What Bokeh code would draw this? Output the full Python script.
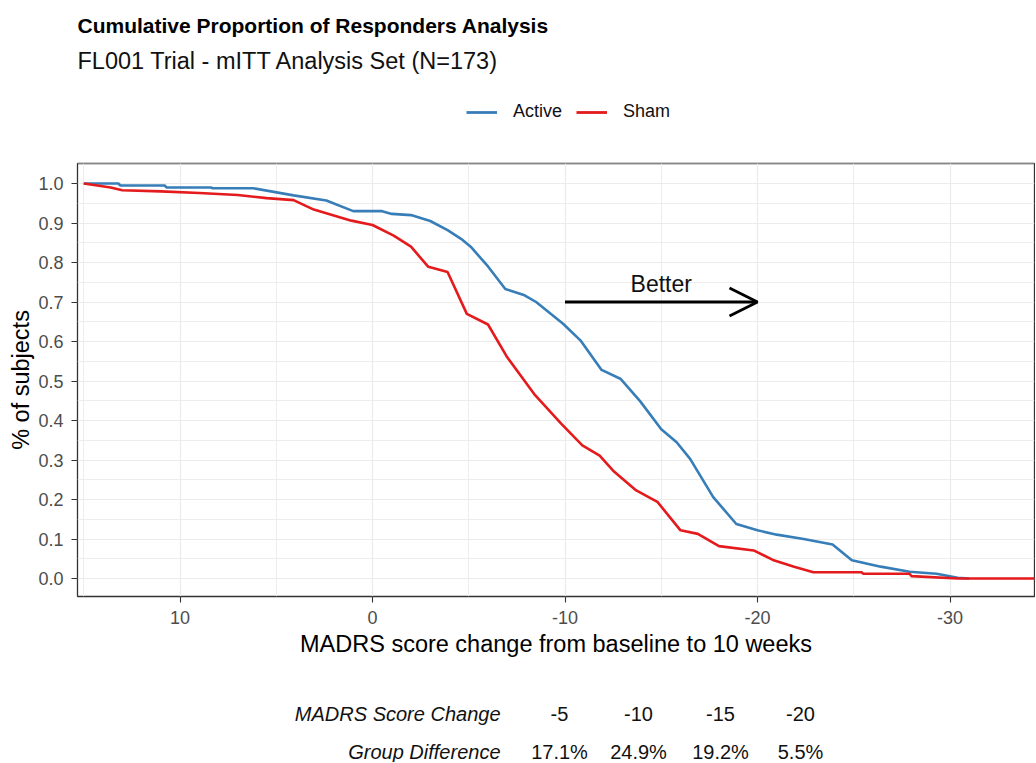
from bokeh.plotting import figure
from bokeh.layouts import column
from bokeh.models import (Range1d, FixedTicker, PrintfTickFormatter, Label, Legend,
                          LegendItem, Arrow, OpenHead)
from bokeh.embed import file_html
from bokeh.resources import INLINE

# ---------------- data ----------------
active_x = [15, 13.2, 13.1, 10.8, 10.7, 8.4, 8.3, 6.2, 4.1, 2.4, 1.0, -0.5, -1.0, -2.0, -3.0,
            -3.9, -4.6, -5.1, -6.0, -6.9, -7.9, -8.5, -9.9, -10.8, -11.9, -12.9, -13.9,
            -15.0, -15.8, -16.5, -17.7, -18.9, -20.0, -21.0, -22.4, -23.9, -24.9, -26.4,
            -27.9, -29.3, -30.4, -31.0]
active_y = [1.0, 1.0, 0.995, 0.995, 0.99, 0.99, 0.988, 0.988, 0.97, 0.957, 0.93, 0.93, 0.923,
            0.92, 0.905, 0.882, 0.86, 0.84, 0.79, 0.733, 0.717, 0.70, 0.645, 0.603, 0.528,
            0.505, 0.449, 0.378, 0.345, 0.303, 0.206, 0.138, 0.122, 0.111, 0.10, 0.086,
            0.046, 0.03, 0.017, 0.012, 0.002, 0.0]

sham_x = [15, 13.6, 13.0, 11.0, 9.0, 7.0, 5.5, 4.1, 3.05, 1.1, 0.0, -1.1, -2.0, -2.9, -3.9,
          -4.9, -6.0, -7.0, -8.4, -9.8, -10.9, -11.8, -12.5, -13.7, -14.8, -16.0, -16.9,
          -18.0, -19.8, -20.8, -21.9, -22.9, -25.4, -25.5, -27.9, -28.0, -30.4, -35.0]
sham_y = [1.0, 0.99, 0.983, 0.98, 0.976, 0.971, 0.963, 0.958, 0.934, 0.906, 0.895, 0.868,
          0.84, 0.789, 0.776, 0.67, 0.643, 0.56, 0.467, 0.392, 0.337, 0.311, 0.273, 0.223,
          0.194, 0.122, 0.113, 0.082, 0.071, 0.047, 0.03, 0.016, 0.016, 0.012, 0.012,
          0.006, 0.0, 0.0]

x_ticks = [10, 0, -10, -20, -30]
x_minor = [15, 5, -5, -15, -25]
y_ticks = [round(0.1 * i, 1) for i in range(11)]
y_minor = [round(0.05 + 0.1 * i, 2) for i in range(-1, 11)]

score_changes = ["-5", "-10", "-15", "-20"]
group_diffs = ["17.1%", "24.9%", "19.2%", "5.5%"]

title = "Cumulative Proportion of Responders Analysis"
subtitle = "FL001 Trial - mITT Analysis Set (N=173)"

FONT = "Liberation Sans"
BLUE = "#377EB8"
RED = "#E41A1C"
TXT = "#111111"

# ---------------- layout (page pixels) ----------------
W, H = 1035, 762
HEAD_H = 161                     # header figure height
MAIN_BOTTOM = 670                # page y where the main figure ends
FL, FR, FT, FB = 77, 1034, 163, 596   # frame edges in page px
X0PX, XSCALE = 372.0, 19.25           # page px of x=0, px per unit
Y0PX, YSCALE = 578.0, 395.0           # page px of y=0, px per unit


def dx(px):
    return (X0PX - px) / XSCALE


def dy(py):
    return (Y0PX - py) / YSCALE


def blank(height, y_top):
    # frame aligned with the main chart's frame; data coords == page pixels
    f = figure(width=W, height=height, output_backend="svg", toolbar_location=None,
               x_range=Range1d(FL, FR), y_range=Range1d(y_top + height, y_top),
               x_axis_type=None, y_axis_type=None,
               min_border_left=FL, min_border_right=W - FR,
               min_border_top=0, min_border_bottom=0)
    f.outline_line_color = None
    f.background_fill_color = "white"
    f.border_fill_color = "white"
    return f


# ---------------- header ----------------
head = blank(HEAD_H, 0)
head.add_layout(Label(x=FL, y=25, text=title, text_font=FONT, text_font_size="21px",
                      text_font_style="bold", text_align="left", text_baseline="middle",
                      text_color="#000000"))
head.add_layout(Label(x=FL, y=60, text=subtitle, text_font=FONT, text_font_size="23.5px",
                      text_align="left", text_baseline="middle", text_color=TXT))
la = head.line([-50, -40], [-50, -50], line_color=BLUE, line_width=2.8)
ls = head.line([-50, -40], [-50, -50], line_color=RED, line_width=2.8)
legend = Legend(items=[LegendItem(label="Active", renderers=[la]),
                       LegendItem(label="Sham", renderers=[ls])],
                orientation="horizontal", location=(466 - FL, HEAD_H - 122),
                glyph_width=31, glyph_height=20, label_height=20, label_standoff=16,
                spacing=14, padding=0, margin=0, border_line_color=None,
                background_fill_alpha=0, label_text_font=FONT,
                label_text_font_size="18px", label_text_color=TXT)
head.add_layout(legend)

# ---------------- main chart ----------------
MAIN_H = MAIN_BOTTOM - HEAD_H
p = figure(width=W, height=MAIN_H, output_backend="svg", toolbar_location=None,
           x_range=Range1d(dx(FL), dx(FR)), y_range=Range1d(dy(FB), dy(FT)),
           min_border_left=FL, min_border_right=W - FR,
           min_border_top=FT - HEAD_H, min_border_bottom=MAIN_BOTTOM - FB)
p.background_fill_color = "white"
p.border_fill_color = "white"
p.outline_line_color = "#333333"
p.outline_line_width = 1.3

p.xgrid.ticker = FixedTicker(ticks=x_ticks, minor_ticks=x_minor)
p.ygrid.ticker = FixedTicker(ticks=y_ticks, minor_ticks=y_minor)
for g in (p.xgrid, p.ygrid):
    g.grid_line_color = "#EBEBEB"
    g.grid_line_width = 1.2
    g.minor_grid_line_color = "#EBEBEB"
    g.minor_grid_line_width = 0.9

p.xaxis.ticker = FixedTicker(ticks=x_ticks)
p.yaxis.ticker = FixedTicker(ticks=y_ticks)
p.xaxis.formatter = PrintfTickFormatter(format="%d")
p.yaxis.formatter = PrintfTickFormatter(format="%.1f")
p.xaxis.axis_label = "MADRS score change from baseline to 10 weeks"
p.yaxis.axis_label = "% of subjects"
for ax in (p.xaxis[0], p.yaxis[0]):
    ax.axis_line_color = None
    ax.major_tick_line_color = "#333333"
    ax.major_tick_line_width = 1.1
    ax.major_tick_out = 6
    ax.major_tick_in = 0
    ax.minor_tick_line_color = None
    ax.major_label_text_font = FONT
    ax.major_label_text_font_size = "18px"
    ax.major_label_text_color = "#4D4D4D"
    ax.axis_label_text_font = FONT
    ax.axis_label_text_font_size = "23.5px"
    ax.axis_label_text_font_style = "normal"
    ax.axis_label_text_color = "#000000"
p.xaxis.major_label_standoff = 8
p.xaxis.axis_label_standoff = 4
p.yaxis.major_label_standoff = 8
p.yaxis.axis_label_standoff = 1

p.line(active_x, active_y, line_color=BLUE, line_width=2.6)
p.line(sham_x, sham_y, line_color=RED, line_width=2.6)

p.add_layout(Arrow(end=OpenHead(size=28, line_width=2.8, line_color="black"),
                   x_start=-10, y_start=0.70, x_end=-20, y_end=0.70,
                   line_width=2.8, line_color="black"))
p.add_layout(Label(x=-15, y=0.745, text="Better", text_font=FONT, text_font_size="23px",
                   text_align="center", text_baseline="middle", text_color=TXT))

# ---------------- footer table ----------------
foot = blank(H - MAIN_BOTTOM, MAIN_BOTTOM)
col_centers = [559, 638, 720, 800]
row_y = [713, 751]
foot.add_layout(Label(x=500, y=row_y[0], text="MADRS Score Change", text_font=FONT,
                      text_font_size="20px", text_font_style="italic", text_align="right",
                      text_baseline="middle", text_color=TXT))
foot.add_layout(Label(x=500, y=row_y[1], text="Group Difference", text_font=FONT,
                      text_font_size="20px", text_font_style="italic", text_align="right",
                      text_baseline="middle", text_color=TXT))
for cx, s, d in zip(col_centers, score_changes, group_diffs):
    foot.add_layout(Label(x=cx, y=row_y[0], text=s, text_font=FONT, text_font_size="20px",
                          text_align="center", text_baseline="middle", text_color=TXT))
    foot.add_layout(Label(x=cx, y=row_y[1], text=d, text_font=FONT, text_font_size="20px",
                          text_align="center", text_baseline="middle", text_color=TXT))

layout = column(head, p, foot, spacing=0)
open("out.html", "w").write(file_html(layout, INLINE))
